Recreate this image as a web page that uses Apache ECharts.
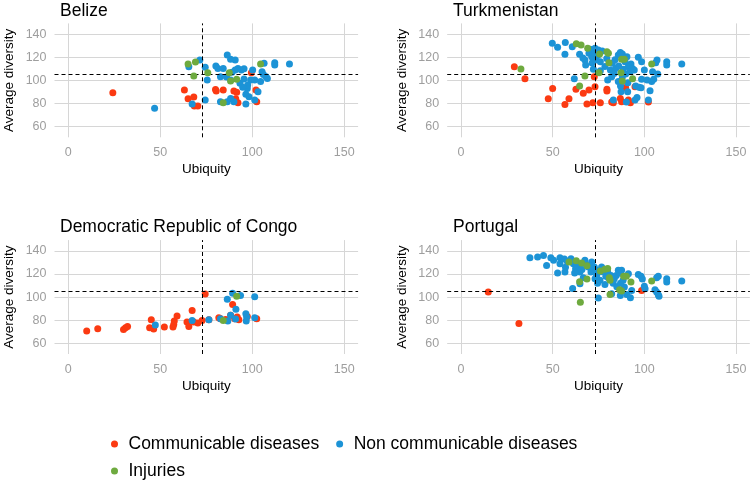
<!DOCTYPE html>
<html>
<head>
<meta charset="utf-8">
<script src="https://cdn.jsdelivr.net/npm/echarts@6/dist/echarts.min.js"></script>
<style>html,body{margin:0;padding:0;background:#fff}#c{width:750px;height:482px}</style>
</head>
<body>
<div id="c"></div>
<script>
// ---- data ----
const countries = ['Belize', 'Turkmenistan', 'Democratic Republic of Congo', 'Portugal'];
const groups = ['Communicable diseases', 'Non communicable diseases', 'Injuries'];
const xTicks = [0, 50, 100, 150];
const yTicks = [60, 80, 100, 120, 140];
const refUbiquity = 73;
const refDiversity = 105;

const belizeCommunicable = [[24.2,89.3],[63.1,91.6],[65.1,84],[68.2,85.5],[68.5,77.7],[70.4,77.7],[80,92],[80.4,90.7],[84.2,91.6],[90,90.7],[91.5,89.6],[92.2,80.6],[91,84],[99.5,106.7],[102,91.6],[102.4,81.4]];
const belizeNonCommunicable = [[46.9,75.7],[65.5,111.9],[71.5,117.7],[67.3,79.4],[74.4,111.3],[75.5,100.3],[74.4,82.9],[80.2,112.5],[81.3,110.4],[82.7,103.2],[84.2,110.4],[86.4,122],[88.2,118.3],[90.7,117.7],[86.4,81.4],[88.2,84.3],[90,81.4],[82.7,81.4],[88.2,100.3],[90.7,109],[92.2,110.4],[94,109],[95.5,110.1],[93.3,97.4],[97.3,93],[98.2,85.8],[96.5,79.4],[99.1,100.3],[100.2,109],[101.3,100.3],[103.1,90.1],[101.3,82.9],[104.5,99.1],[105.3,107.5],[106.4,114.8],[107.5,103.2],[108.2,101.7],[112.2,115.4],[112.2,113.3],[120.2,114.2],[95.5,101.2],[97.5,96],[94.8,94],[96.5,88],[89,107],[106,105],[86,103]];
const belizeInjuries = [[65.1,114.2],[69.1,116],[68.2,103.8],[75.8,106.7],[87.5,106.7],[88.2,99.4],[91.5,100.9],[84.2,80.6],[104.5,114.2]];

const turkmenistanCommunicable = [[29.1,111.9],[34.9,101.4],[47.6,84.1],[50,93],[56.7,79.1],[58.9,84.1],[62.7,92.2],[66.7,88.7],[69.8,91.6],[68.7,79.4],[71.9,80.6],[73.1,94.5],[72.7,103.2],[76,80.6],[79.6,92.2],[79.6,90.7],[82.2,81.2],[83.1,80.6],[86.9,84.3],[87.6,81.4],[88.5,93.6],[89.8,93.6],[91.3,82.9],[92.4,80.6],[94.9,94.5],[102.2,81.2]];
const turkmenistanNonCommunicable = [[49.8,132.2],[52.7,128.7],[56.9,132.8],[56.7,122.6],[60.7,129.3],[61.8,101.4],[64.7,122.6],[67.6,117.7],[68,113.3],[69.8,123.5],[70.4,127],[71.3,120.6],[72.2,109.6],[73.1,127.8],[73.5,117.7],[74.9,126.4],[76,116.2],[76,108.4],[80,100.3],[81.5,109],[82.2,103.2],[82.5,114.8],[83.1,82.9],[84.4,110.4],[85.8,122],[86.9,124.1],[87.3,90.1],[88,122.9],[85.8,99.1],[88.5,109.6],[89.5,116.2],[89.8,105.5],[90.5,120.6],[90.9,90.1],[91.3,111.9],[90.2,81.2],[92.2,107.5],[92.7,114.2],[93.5,110.4],[94.5,109],[95.3,95.1],[96,85.2],[94.9,82.9],[97.1,93.9],[96.7,120],[98.5,116.2],[98.2,93.6],[100,109],[98.5,100.9],[101.5,100.3],[102.2,82.9],[103.1,91],[104,99.1],[104.5,107.5],[105.1,100.9],[106.2,115.4],[106.9,117.7],[107.3,105.5],[112.2,116.2],[112.2,113.3],[120.4,114.2],[72,124],[74.5,121.5],[77,125.5],[66.5,119.5],[78.5,112],[83.5,106],[86,112.5],[88,103],[91,98],[79.5,119],[71.5,115],[84,118],[87,95]];
const turkmenistanInjuries = [[32.7,109.9],[62.9,131.9],[65.5,130.7],[69.1,127.8],[64.7,95.1],[67.6,103.8],[75.6,122.9],[75.3,106.7],[79.6,124.9],[80.4,123.5],[80.7,115.4],[87.6,118.3],[89.1,118.3],[87.3,106.7],[88,99.4],[93.6,101.4],[104,114.2]];

const congoCommunicable = [[10,70.4],[16,72.5],[30,71.9],[31.1,73.3],[32.2,74.5],[44.2,73.3],[45.1,80.3],[46.4,72.2],[52.2,73.9],[56.9,73.9],[57.3,76.2],[57.6,79.1],[59.1,83.5],[64.5,78.3],[65.5,74.5],[67.3,88.4],[68.2,78.3],[70.4,77.4],[72.7,79.7],[74.4,102.6],[76.4,80.3],[81.8,82],[82.7,81.2],[88.2,84.1],[89.3,93.6],[90.4,81.2],[91.8,82.6],[92.7,80.3],[97.3,83.2],[102.4,81.2],[85.5,80.5]];
const congoNonCommunicable = [[47.3,75.7],[67.3,79.7],[76.4,80.3],[82.7,81.2],[86.4,98],[86.7,79.1],[88.2,84.1],[89.3,103.2],[91.1,89.3],[90.9,80.9],[93.6,101.4],[96.5,85.5],[96.9,82.6],[96.7,79.1],[101.3,100.3],[101.3,82]];
const congoInjuries = [[91.5,100.6],[84.2,79.7]];

const portugalCommunicable = [[14.9,104.3],[31.6,77.1],[98.5,105.8]];
const portugalNonCommunicable = [[37.6,134.2],[41.8,134.8],[45,136.2],[46.7,127.5],[49,134.2],[50.5,131.9],[52.7,120.9],[54,134.2],[54,129],[56.4,133],[56.7,121.7],[60,133.3],[61.3,129],[60.9,107.5],[62.5,124.6],[64.4,126.1],[64.9,121.7],[64.9,111.6],[66.7,116.8],[67.6,131.9],[69.5,126.1],[70.9,121.7],[71.3,130.4],[72.7,126.1],[73.1,115.9],[74,123.2],[74.9,99.1],[75.8,114.5],[76.7,126.1],[78.5,111],[80,121.7],[80.4,116.8],[81.8,118.8],[82.2,102.9],[83.6,115.9],[84.7,118.8],[85.8,123.2],[86.7,120.9],[87.6,123.2],[86.9,101.4],[88.4,114.5],[89.1,108.7],[90.4,102.3],[91.3,120.3],[92.4,99.4],[93.1,105.8],[96.7,119.7],[98.2,118],[98.9,115.7],[100,109.3],[100.4,107.2],[105.8,106.4],[106.7,104.3],[107.6,102],[108,100.6],[106.7,116.8],[107.6,118],[112.2,115.9],[112.2,113],[120.4,113.9],[58,131],[63,128],[66,124],[68,129],[71,127],[74,119],[77,122],[79,118],[83,112],[85,109],[87,112],[74.5,112],[62,121],[57,126]];
const portugalInjuries = [[58.9,130.4],[62.9,131.6],[65.8,129.6],[68.7,127.2],[64.7,113.3],[68.7,115.7],[65.1,95.4],[76,122.6],[78.5,124.1],[80,124.9],[80.9,116.8],[81.3,114.5],[81.3,102.3],[88.7,118],[90.2,118],[86.5,106.4],[87.6,105.2],[92.7,113],[104,113.9]];

const panelData = [
  [belizeCommunicable, belizeNonCommunicable, belizeInjuries],
  [turkmenistanCommunicable, turkmenistanNonCommunicable, turkmenistanInjuries],
  [congoCommunicable, congoNonCommunicable, congoInjuries],
  [portugalCommunicable, portugalNonCommunicable, portugalInjuries]
];

// ---- layout / style ----
const colors = ['#fb3a12', '#1c93d6', '#6eaa3f'];
const FONT = 'Liberation Sans, Arial, Helvetica, sans-serif';
const grids = [
  {left: 54.5, top: 23.4, width: 303.6, height: 113.9},
  {left: 447.2, top: 23.4, width: 302.6, height: 113.9},
  {left: 54.5, top: 240.1, width: 303.6, height: 113.9},
  {left: 447.2, top: 240.1, width: 302.6, height: 113.9}
];
const titlePos = [[60, 2], [453, 2], [60, 218], [453, 218]];

const option = {
  animation: false,
  backgroundColor: '#fff',
  textStyle: {fontFamily: FONT},
  title: countries.map((c, i) => ({
    text: c, left: titlePos[i][0], top: titlePos[i][1], padding: 0,
    textStyle: {fontFamily: FONT, fontSize: 17.5, fontWeight: 'normal', color: '#000'}
  })),
  grid: grids,
  xAxis: grids.map((g, i) => ({
    type: 'value', gridIndex: i, min: -7.5, max: 157.5,
    axisLine: {show: false},
    axisTick: {show: false, customValues: xTicks},
    axisLabel: {customValues: xTicks, color: '#9e9e9e', fontSize: 12.5, margin: 9, fontFamily: FONT},
    splitLine: {show: true, lineStyle: {color: '#d6d6d6', width: 1}},
    name: 'Ubiquity', nameLocation: 'middle', nameGap: 25,
    nameTextStyle: {color: '#000', fontSize: 13.5, fontFamily: FONT}
  })),
  yAxis: grids.map((g, i) => ({
    type: 'value', gridIndex: i, min: 50.5, max: 149.5,
    axisLine: {show: false},
    axisTick: {show: false, customValues: yTicks},
    axisLabel: {customValues: yTicks, color: '#9e9e9e', fontSize: 12.5, margin: 8, fontFamily: FONT},
    splitLine: {show: true, lineStyle: {color: '#d6d6d6', width: 1}},
    name: 'Average diversity', nameLocation: 'middle', nameGap: 38,
    nameTextStyle: {color: '#000', fontSize: 13.5, fontFamily: FONT}
  })),
  legend: [
    {data: [groups[0], groups[1]], left: 111, top: 435, orient: 'horizontal', itemGap: 17,
     itemWidth: 18, itemHeight: 7, icon: 'circle', padding: 0,
     textStyle: {fontSize: 17.5, color: '#000', fontFamily: FONT}},
    {data: [groups[2]], left: 111, top: 462, orient: 'horizontal',
     itemWidth: 18, itemHeight: 7, icon: 'circle', padding: 0,
     textStyle: {fontSize: 17.5, color: '#000', fontFamily: FONT}}
  ],
  series: []
};

panelData.forEach((sets, i) => {
  sets.forEach((pts, k) => {
    const s = {
      type: 'scatter', name: groups[k], xAxisIndex: i, yAxisIndex: i,
      data: pts, symbol: 'circle', symbolSize: 7,
      itemStyle: {color: colors[k], opacity: 1},
      z: 3 + k
    };
    if (k === 0) {
      s.markLine = {
        silent: true, symbol: 'none', animation: false,
        label: {show: false},
        lineStyle: {color: '#000', type: [4, 3], width: 1},
        data: [{xAxis: refUbiquity}, {yAxis: refDiversity}]
      };
    }
    option.series.push(s);
  });
});

const chart = echarts.init(document.getElementById('c'), null, {renderer: 'canvas'});
chart.setOption(option);
</script>
</body>
</html>
